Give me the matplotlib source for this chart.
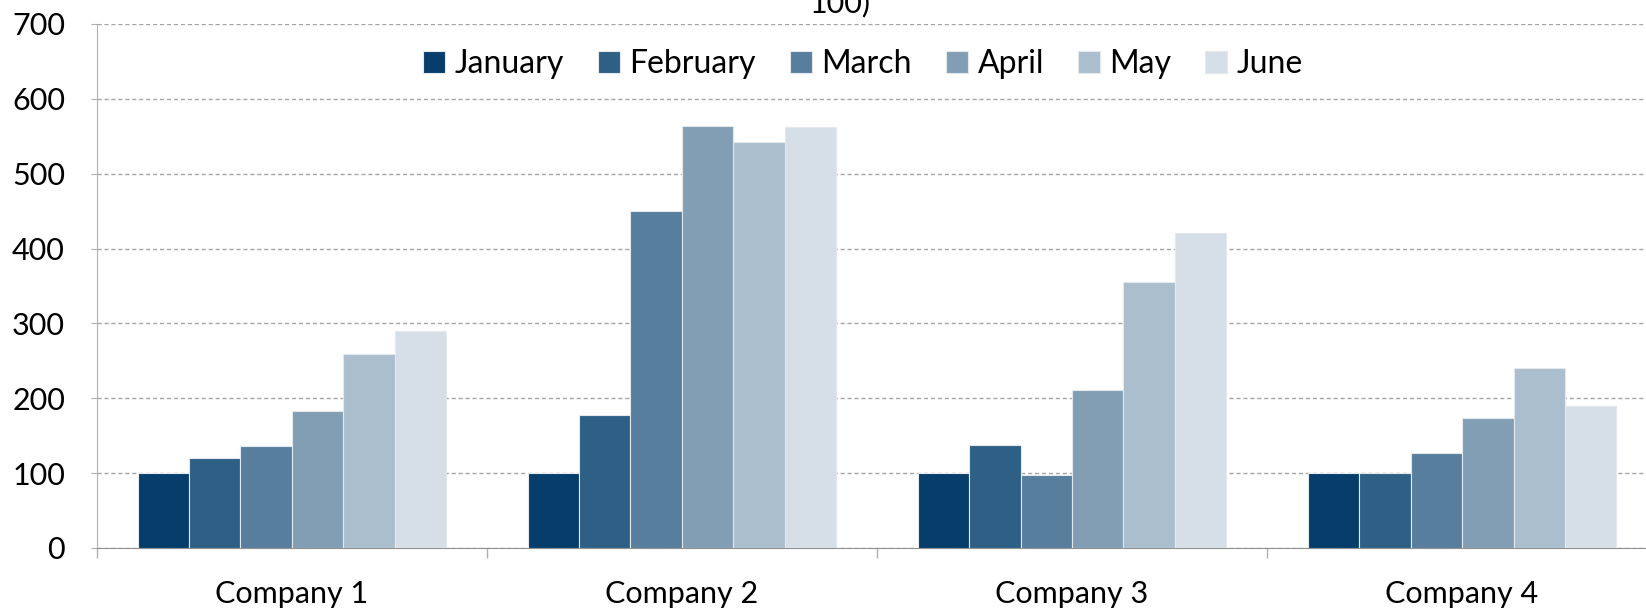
import matplotlib
matplotlib.use("Agg")
import matplotlib.pyplot as plt
import numpy as np

plt.rcParams['font.family'] = ['Lato', 'DejaVu Sans']

companies = ['Company 1', 'Company 2', 'Company 3', 'Company 4']
months = ['January', 'February', 'March', 'April', 'May', 'June']
values = {
    'January':  [100, 100, 100, 100],
    'February': [120, 177, 138, 100],
    'March':    [136, 450, 98, 127],
    'April':    [183, 564, 211, 173],
    'May':      [259, 543, 355, 241],
    'June':     [290, 562, 421, 190],
}
colors = ['#063d6b', '#2e5f85', '#587e9e', '#829eb4', '#abbecd', '#d6dee7']

fig = plt.figure(figsize=(16.46, 6.09), dpi=100)
ax = fig.add_axes([0.0589, 0.1002, 0.9478, 0.8604])

x = np.arange(len(companies))
w = 0.132
for i, m in enumerate(months):
    ax.bar(x + (i - 2.5) * w, values[m], w, color=colors[i], label=m,
           edgecolor='#e4e9ee', linewidth=0.8, zorder=3)

ax.set_xlim(-0.5, 3.5)
ax.set_ylim(0, 700)
ax.set_yticks(range(0, 701, 100))
ax.grid(axis='y', color='#a6a6a6', linestyle=(0, (3, 2)), linewidth=1)
ax.set_axisbelow(True)

ax.set_xticks(x)
ax.set_xticklabels(companies)
ax.set_xticks(np.arange(-0.5, 3.6, 1), minor=True)
ax.tick_params(axis='x', which='major', length=0, pad=23, labelsize=22)
ax.tick_params(axis='x', which='minor', length=7, color='#b0b0b0', width=1)
ax.tick_params(axis='y', length=4, color='#b0b0b0', pad=19, labelsize=22)

for s in ['top', 'right']:
    ax.spines[s].set_visible(False)
ax.spines['left'].set_color('#b0b0b0')
ax.spines['bottom'].set_color('#909090')

fig.legend(loc='center', bbox_to_anchor=(863 / 1646, 1 - 64 / 609), ncol=6,
           frameon=False, fontsize=23, handlelength=0.7, handleheight=0.7,
           handletextpad=0.3, columnspacing=1.05)

# title is cut off at the top of the picture, only its last line shows
fig.text(840 / 1646, 1 - 17 / 609, 'Index (January =\n100)', ha='center',
         va='bottom', fontsize=22)

fig.savefig('out.png', dpi=100)
